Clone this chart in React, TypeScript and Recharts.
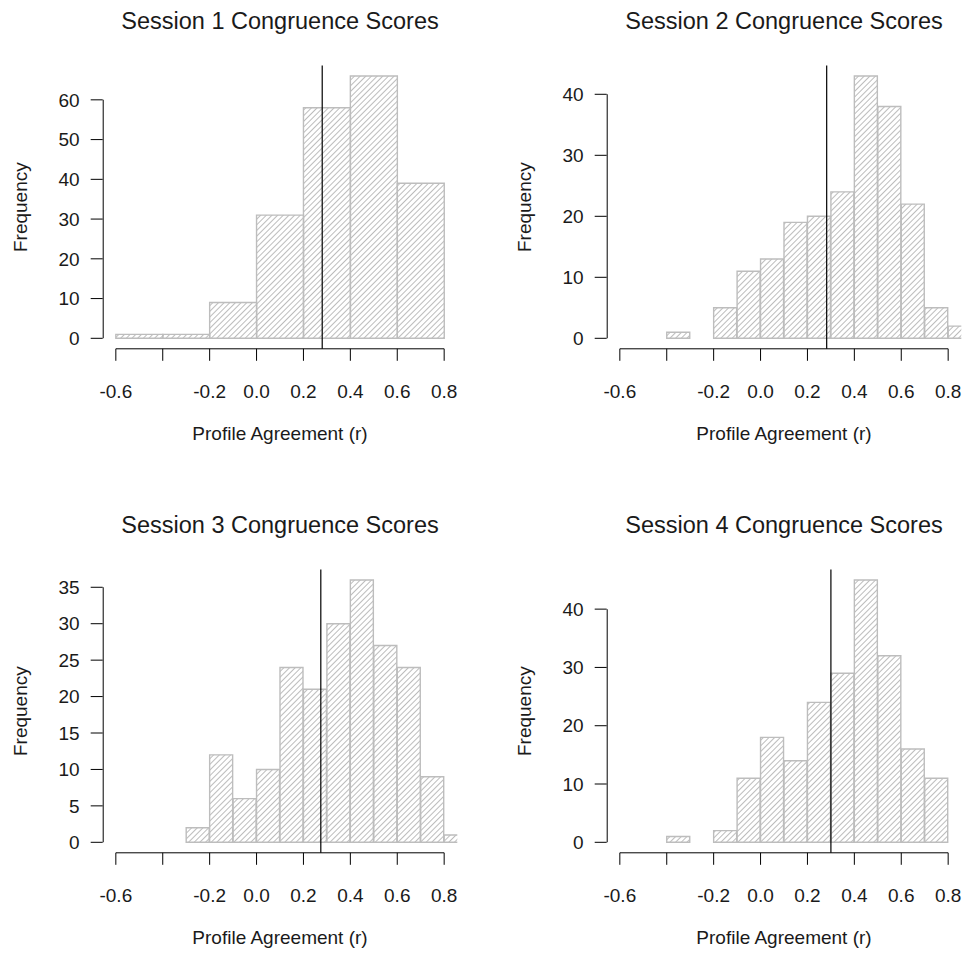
import React from 'react';
import { ComposedChart, Bar, XAxis, YAxis, ReferenceLine, ReferenceArea } from 'recharts';

// histogram counts
const titles = [
  'Session 1 Congruence Scores',
  'Session 2 Congruence Scores',
  'Session 3 Congruence Scores',
  'Session 4 Congruence Scores',
];

const s1BinStarts = [-0.6, -0.4, -0.2, 0.0, 0.2, 0.4, 0.6];
const s1Counts = [1, 1, 9, 31, 58, 66, 39];

const s2BinStarts = [-0.4, -0.3, -0.2, -0.1, 0.0, 0.1, 0.2, 0.3, 0.4, 0.5, 0.6, 0.7, 0.8];
const s2Counts = [1, 0, 5, 11, 13, 19, 20, 24, 43, 38, 22, 5, 2];

const s3BinStarts = [-0.3, -0.2, -0.1, 0.0, 0.1, 0.2, 0.3, 0.4, 0.5, 0.6, 0.7, 0.8];
const s3Counts = [2, 12, 6, 10, 24, 21, 30, 36, 27, 24, 9, 1];

const s4BinStarts = [-0.4, -0.3, -0.2, -0.1, 0.0, 0.1, 0.2, 0.3, 0.4, 0.5, 0.6, 0.7];
const s4Counts = [1, 0, 2, 11, 18, 14, 24, 29, 45, 32, 16, 11];

const binWidths = [0.2, 0.1, 0.1, 0.1];
const meanLines = [0.28, 0.282, 0.274, 0.3];

const xTicks = [-0.6, -0.4, -0.2, 0.0, 0.2, 0.4, 0.6, 0.8];
const xTickLabels = ['-0.6', '', '-0.2', '0.0', '0.2', '0.4', '0.6', '0.8'];

const yTicks1 = [0, 10, 20, 30, 40, 50, 60];
const yTicks2 = [0, 10, 20, 30, 40];
const yTicks3 = [0, 5, 10, 15, 20, 25, 30, 35];
const yTicks4 = [0, 10, 20, 30, 40];

const FONT = "'Liberation Sans', Arial, Helvetica, sans-serif";
const INK = '#1a1a1a';
const BAR_EDGE = '#bdbdbd';
const HATCH = '#bcbcbc';

const CHART_W = 460;
const CHART_H = 450;
const MARGIN = { top: 65.5, right: 2.7, bottom: 6.2, left: 0 };
const Y_AXIS_W = 102.7;
const X_AXIS_H = 95;

// R's default 4% extension on both axes
const xLo = -0.6;
const xHi = 0.8;
const xPad = (xHi - xLo) * 0.04;
const xDomain = [xLo - xPad, xHi + xPad];
// about one pixel of the x scale, for the width of the y axis rule
const axisRuleWidth = (xDomain[1] - xDomain[0]) / 355;

interface PanelProps {
  id: string;
  title: string;
  starts: number[];
  counts: number[];
  binWidth: number;
  yTicks: number[];
  mean: number;
  left: number;
  top: number;
}

function Panel({ id, title, starts, counts, binWidth, yTicks, mean, left, top }: PanelProps) {
  const data = starts.map((s, i) => ({ mid: +(s + binWidth / 2).toFixed(3), count: counts[i] }));
  const maxCount = Math.max(...counts);
  const yDomain = [-0.04 * maxCount, 1.04 * maxCount];
  const plotCenter = Y_AXIS_W + (CHART_W - Y_AXIS_W - MARGIN.right) / 2;
  const yTop = yTicks[yTicks.length - 1];

  return (
    <div style={{ position: 'absolute', left, top }}>
      <ComposedChart
        width={CHART_W}
        height={CHART_H}
        data={data}
        margin={MARGIN}
        barCategoryGap={0}
        barGap={0}
      >
        <defs>
          <pattern id={id} patternUnits="userSpaceOnUse" width={4} height={4} patternTransform="rotate(45)">
            <line x1={0.5} y1={0} x2={0.5} y2={4} stroke={HATCH} strokeWidth={1} />
          </pattern>
        </defs>
        <text x={plotCenter} y={28.5} textAnchor="middle" fontFamily={FONT} fontSize={23.5} fill={INK}>
          {title}
        </text>
        <XAxis
          dataKey="mid"
          type="number"
          domain={xDomain}
          allowDataOverflow
          ticks={xTicks}
          interval={0}
          tickFormatter={(_v: number, i: number) => xTickLabels[i]}
          tick={{ fill: INK, fontSize: 19, fontFamily: FONT }}
          tickLine={{ stroke: '#000' }}
          tickSize={12}
          tickMargin={23.5}
          axisLine={false}
          height={X_AXIS_H}
          label={{
            value: 'Profile Agreement (r)',
            position: 'insideBottom',
            offset: 4,
            style: { fill: INK, fontSize: 19, fontFamily: FONT },
          }}
        />
        <YAxis
          type="number"
          domain={yDomain}
          allowDataOverflow
          ticks={yTicks}
          interval={0}
          width={Y_AXIS_W}
          tick={{ fill: INK, fontSize: 19, fontFamily: FONT }}
          tickLine={{ stroke: '#000' }}
          tickSize={12}
          tickMargin={11}
          axisLine={false}
          label={{
            value: 'Frequency',
            angle: -90,
            position: 'insideLeft',
            offset: 20.3,
            style: { textAnchor: 'middle', fill: INK, fontSize: 19, fontFamily: FONT },
          }}
        />
        <Bar
          dataKey="count"
          fill={`url(#${id})`}
          stroke={BAR_EDGE}
          strokeWidth={1.4}
          isAnimationActive={false}
        />
        {/* R draws the axis lines only between the outer ticks */}
        <ReferenceLine
          segment={[{ x: xLo, y: yDomain[0] }, { x: xHi, y: yDomain[0] }]}
          stroke="#000"
          strokeWidth={1}
          ifOverflow="visible"
        />
        <ReferenceArea
          x1={xDomain[0]}
          x2={xDomain[0] + axisRuleWidth}
          y1={0}
          y2={yTop}
          fill="#000"
          fillOpacity={1}
          stroke="none"
          ifOverflow="visible"
        />
        <ReferenceLine x={mean} stroke="#000" strokeWidth={1.2} />
      </ComposedChart>
    </div>
  );
}

export default function App() {
  return (
    <div style={{ position: 'absolute', left: 0, top: 0, width: 964, height: 954, background: '#fff', overflow: 'hidden' }}>
      <Panel id="hatch1" title={titles[0]} starts={s1BinStarts} counts={s1Counts} binWidth={binWidths[0]} yTicks={yTicks1} mean={meanLines[0]} left={0} top={0} />
      <Panel id="hatch2" title={titles[1]} starts={s2BinStarts} counts={s2Counts} binWidth={binWidths[1]} yTicks={yTicks2} mean={meanLines[1]} left={504} top={0} />
      <Panel id="hatch3" title={titles[2]} starts={s3BinStarts} counts={s3Counts} binWidth={binWidths[2]} yTicks={yTicks3} mean={meanLines[2]} left={0} top={504} />
      <Panel id="hatch4" title={titles[3]} starts={s4BinStarts} counts={s4Counts} binWidth={binWidths[3]} yTicks={yTicks4} mean={meanLines[3]} left={504} top={504} />
    </div>
  );
}
